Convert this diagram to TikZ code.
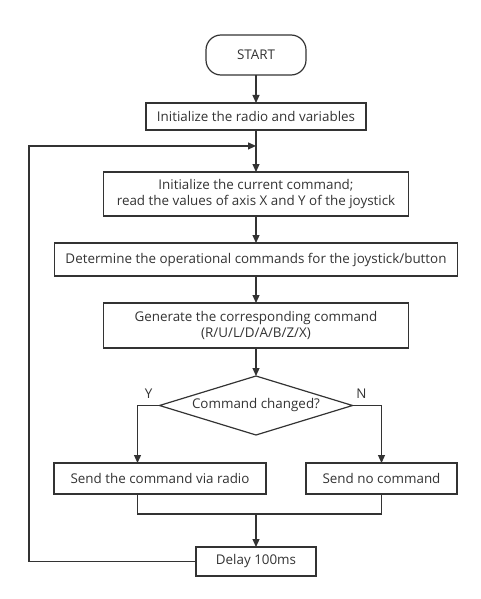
\documentclass[tikz,border=0pt]{standalone}
\usepackage{fontspec}
\setmainfont{Open Sans}
\usetikzlibrary{arrows.meta,positioning,shapes.geometric,calc}
\definecolor{ink}{HTML}{333333}
\tikzset{
  >={Triangle[length=8pt,width=7pt]},
  font=\fontsize{13.4}{16.5}\selectfont,
  proc/.style  ={draw=ink, line width=1.2pt, text=ink, align=center, inner sep=2pt, outer sep=0pt},
  term/.style  ={proc, rounded corners=15pt, minimum width=100pt, minimum height=40pt},
  cond/.style  ={diamond, draw=ink, line width=1.2pt, text=ink, aspect=3.27, inner sep=0pt, outer sep=0pt, minimum width=193pt, minimum height=59pt},
  arr/.style   ={->, draw=ink, line width=1.2pt},
  wire/.style  ={draw=ink, line width=1.2pt},
  lbl/.style   ={text=ink, inner sep=0pt},
}

\begin{document}
\begin{tikzpicture}[x=1pt, y=1pt]
  \useasboundingbox (0,0) rectangle (480,-599);

  \node[term] (start) at (256,-55) {START};
  \node[proc, below=28pt of start, minimum width=220pt, minimum height=27pt] (init) {Initialize the radio and variables};
  \node[proc, below=42pt of init, minimum width=305pt, minimum height=44pt] (cmd) {Initialize the current command;\\read the values of axis X and Y of the joystick};
  \node[proc, below=27pt of cmd, minimum width=403pt, minimum height=33pt] (det) {Determine the operational commands for the joystick/button};
  \node[proc, below=27pt of det, minimum width=305pt, minimum height=45pt] (gen) {Generate the corresponding command\\(R/U/L/D/A/B/Z/X)};
  \node[cond, below=28pt of gen] (chg) {Command changed?};
  \node[proc, below=28pt of chg, xshift=-96pt, minimum width=212pt, minimum height=31pt] (send) {Send the command via radio};
  \node[proc, below=28pt of chg, xshift=125.5pt, minimum width=151pt, minimum height=31pt] (none) {Send no command};
  \node[proc, below=53pt of send, xshift=96pt, minimum width=120pt, minimum height=29pt] (delay) {Delay 100ms};

  \node[lbl] at ($(chg.west)+(-11,12)$) {Y};
  \node[lbl] at ($(chg.east)+(9,12)$) {N};

  \coordinate (ybr) at ($(chg.west)+(-22,0)$);
  \coordinate (nbr) at (none.north |- chg.east);
  \coordinate (mrg) at ($(delay.north)+(0,33)$);
  \coordinate (back) at ($(init.south)!0.38!(cmd.north)$);

  \draw[arr] (start) -- (init);
  \draw[arr] (init) -- (cmd);
  \draw[arr] (cmd) -- (det);
  \draw[arr] (det) -- (gen);
  \draw[arr] (gen) -- (chg);
  \draw[arr] (chg.west) -- (ybr) -- (ybr |- send.north);
  \draw[arr] (chg.east) -- (nbr) -- (none.north);
  \draw[wire] (ybr |- send.south) |- (mrg) -| (none.south);
  \draw[arr] (mrg) -- (delay);
  \draw[arr] (delay.west) -- ++(-167,0) |- (back);
\end{tikzpicture}
\end{document}
